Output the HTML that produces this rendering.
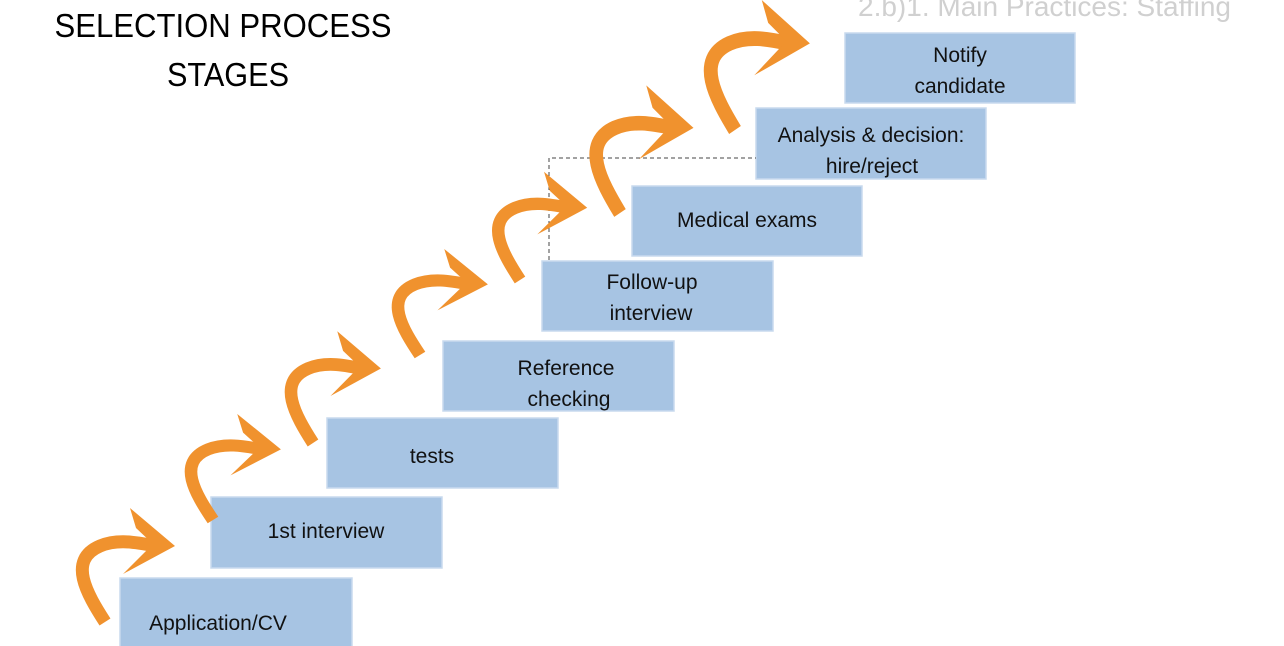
<!DOCTYPE html>
<html><head><meta charset="utf-8"><style>
html,body{margin:0;padding:0;background:#fff;}
svg{display:block;}
text{font-family:"Liberation Sans",sans-serif;}
</style></head><body>
<svg width="1284" height="646" viewBox="0 0 1284 646" xmlns="http://www.w3.org/2000/svg">
<defs>
<g id="arr">
<path d="M0,0 C-18,-28 -38,-62 -5,-76 C12,-83 30,-80 50,-76" fill="none" stroke="#F0922E" stroke-width="13"/>
<polygon points="70,-76 25,-114 31,-94 48,-78 18,-48 44,-62" fill="#F0922E"/>
</g>
</defs>
<text x="858" y="16" font-size="28" fill="#d0d0d0">2.b)1. Main Practices: Staffing</text>
<text x="223" y="37" font-size="33" text-anchor="middle" textLength="337" lengthAdjust="spacingAndGlyphs">SELECTION PROCESS</text>
<text x="228" y="86" font-size="33" text-anchor="middle" textLength="122" lengthAdjust="spacingAndGlyphs">STAGES</text>

<g fill="#A7C4E3" stroke="#C8DAEE" stroke-width="1.5">
<rect x="120" y="578" width="232" height="70"/>
<rect x="211" y="497" width="231" height="71"/>
<rect x="327" y="418" width="231" height="70"/>
<rect x="443" y="341" width="231" height="70"/>
<rect x="542" y="261" width="231" height="70"/>
<rect x="632" y="186" width="230" height="70"/>
<rect x="756" y="108" width="230" height="71"/>
<rect x="845" y="33" width="230" height="70"/>
</g>
<path d="M549,260 L549,158 L756,158" fill="none" stroke="#444" stroke-width="1" stroke-dasharray="4,3"/>

<use href="#arr" transform="translate(105,622)"/>
<use href="#arr" transform="translate(213,520) scale(0.97,0.93)"/>
<use href="#arr" transform="translate(313,443) scale(0.97,0.98)"/>
<use href="#arr" transform="translate(420,355) scale(0.97,0.93)"/>
<use href="#arr" transform="translate(520,280) scale(0.96,0.95)"/>
<use href="#arr" transform="translate(620,213) scale(1.05,1.12)"/>
<use href="#arr" transform="translate(735,130) scale(1.07,1.14)"/>

<g font-size="21" fill="#111" text-anchor="middle">
<text x="218" y="630">Application/CV</text>
<text x="326" y="538">1st interview</text>
<text x="432" y="463">tests</text>
<text x="566" y="375">Reference</text>
<text x="569" y="406">checking</text>
<text x="652" y="289">Follow-up</text>
<text x="651" y="320">interview</text>
<text x="747" y="227">Medical exams</text>
<text x="871" y="142">Analysis &amp; decision:</text>
<text x="872" y="173">hire/reject</text>
<text x="960" y="62">Notify</text>
<text x="960" y="93">candidate</text>
</g>
</svg>
</body></html>
